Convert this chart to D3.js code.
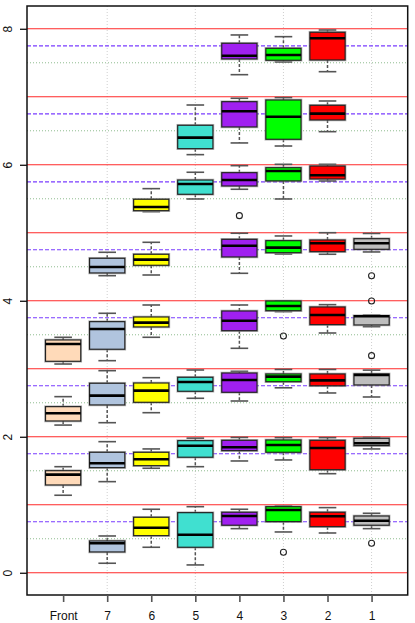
<!DOCTYPE html>
<html>
<head>
<meta charset="utf-8">
<script src="https://cdn.jsdelivr.net/npm/d3@7"></script>
<style>
  html, body { margin: 0; padding: 0; background: #fff; }
  svg { display: block; }
  text { font-family: "Liberation Sans", Arial, sans-serif; }
</style>
</head>
<body>
<svg id="chart" width="415" height="623"></svg>
<script>
// ---- Data ----
const categories = ["Front", "7", "6", "5", "4", "3", "2", "1"];
const fillColors = ["#FFDAB9", "#B0C4DE", "#FFFF00", "#40E0D0", "#A020F0", "#00FF00", "#FF0000", "#BEBEBE"];

// each row: [lower whisker, Q1, median, Q3, upper whisker]
const statsFront = [
  [3.07, 3.11, 3.365, 3.424, 3.463],
  [2.172, 2.232, 2.346, 2.443, 2.59],
  [1.14, 1.291, 1.443, 1.501, 1.56]
];
const stats7 = [
  [4.369, 4.409, 4.497, 4.625, 4.713],
  [3.119, 3.287, 3.585, 3.693, 3.816],
  [2.207, 2.468, 2.605, 2.787, 2.972],
  [1.34, 1.546, 1.61, 1.772, 1.928],
  [0.14, 0.306, 0.434, 0.468, 0.541]
];
const stats6 = [
  [5.31, 5.325, 5.379, 5.493, 5.649],
  [4.379, 4.522, 4.605, 4.684, 4.86],
  [3.463, 3.615, 3.678, 3.762, 3.938],
  [2.354, 2.507, 2.678, 2.791, 2.869],
  [1.537, 1.575, 1.669, 1.772, 1.821],
  [0.375, 0.546, 0.663, 0.816, 0.934]
];
const stats5 = [
  [6.149, 6.237, 6.399, 6.581, 6.879],
  [5.497, 5.566, 5.718, 5.776, 5.89],
  [2.566, 2.669, 2.806, 2.875, 2.982],
  [1.56, 1.699, 1.869, 1.943, 1.98],
  [0.115, 0.375, 0.56, 0.884, 0.972]
];
const stats4 = [
  [7.325, 7.556, 7.604, 7.787, 7.909],
  [6.321, 6.556, 6.787, 6.928, 6.978],
  [5.64, 5.688, 5.776, 5.884, 5.987],
  [4.404, 4.644, 4.81, 4.904, 4.993],
  [3.301, 3.56, 3.707, 3.85, 3.938],
  [2.526, 2.654, 2.835, 2.938, 2.963],
  [1.644, 1.796, 1.845, 1.948, 1.99],
  [0.649, 0.699, 0.835, 0.89, 0.934]
];
const stats3 = [
  [7.512, 7.537, 7.615, 7.713, 7.884],
  [6.276, 6.375, 6.707, 6.953, 6.988],
  [5.497, 5.762, 5.909, 5.957, 6.007],
  [4.688, 4.707, 4.781, 4.884, 4.953],
  [3.84, 3.854, 3.924, 3.997, 4.0],
  [2.72, 2.81, 2.884, 2.924, 2.99],
  [1.659, 1.772, 1.879, 1.953, 1.987],
  [0.6, 0.752, 0.924, 0.972, 0.982]
];
const stats2 = [
  [7.369, 7.541, 7.86, 7.949, 7.982],
  [6.487, 6.659, 6.752, 6.875, 6.938],
  [5.762, 5.791, 5.846, 5.982, 6.007],
  [4.684, 4.722, 4.845, 4.894, 5.001],
  [3.526, 3.649, 3.791, 3.909, 3.943],
  [2.644, 2.75, 2.83, 2.924, 2.99],
  [1.457, 1.516, 1.835, 1.948, 1.987],
  [0.585, 0.678, 0.831, 0.89, 0.958]
];
const stats1 = [
  [4.718, 4.757, 4.845, 4.913, 4.99],
  [3.619, 3.644, 3.772, 3.781, 3.79],
  [2.585, 2.762, 2.909, 2.924, 2.98],
  [1.821, 1.87, 1.904, 1.978, 1.99],
  [0.649, 0.699, 0.766, 0.835, 0.875]
];
const outliers4 = [5.252];
const outliers3 = [3.482, 0.301];
const outliers1 = [4.369, 3.997, 3.193, 0.434];

const allStats = [statsFront, stats7, stats6, stats5, stats4, stats3, stats2, stats1];
const allOutliers = [[], [], [], [], outliers4, outliers3, [], outliers1];

const yTicks = [0, 2, 4, 6, 8];
const redLevels = [0, 1, 2, 3, 4, 5, 6, 7, 8];
const blueLevels = [0.75, 1.75, 2.75, 3.75, 4.75, 5.75, 6.75, 7.75];
const greenLevels = [0.5, 1.5, 2.5, 3.5, 4.5, 5.5, 6.5, 7.5];
const vGridPositions = [2, 4, 6, 8];

// ---- Layout ----
const svg = d3.select("#chart");
const L = 27, R = 407.7, T = 6, B = 595;
const x = d3.scaleLinear().domain([0.18, 8.82]).range([L, R]);
const y = d3.scaleLinear().domain([-0.327, 8.335]).range([B, T]);
const boxW = x(0.8) - x(0);
const capW = boxW * 0.5;

const plot = svg.append("g");

// vertical dotted grid
plot.selectAll("line.vg").data(vGridPositions).enter().append("line")
  .attr("x1", d => x(d)).attr("x2", d => x(d))
  .attr("y1", T).attr("y2", B)
  .attr("stroke", "#cfcfcf").attr("stroke-width", 1)
  .attr("stroke-dasharray", "1,2");

// green dotted
plot.selectAll("line.gl").data(greenLevels).enter().append("line")
  .attr("x1", L).attr("x2", R)
  .attr("y1", d => y(d)).attr("y2", d => y(d))
  .attr("stroke", "#8fbc8f").attr("stroke-width", 1)
  .attr("stroke-dasharray", "1,2");

// blue dashed
plot.selectAll("line.bl").data(blueLevels).enter().append("line")
  .attr("x1", L).attr("x2", R)
  .attr("y1", d => y(d)).attr("y2", d => y(d))
  .attr("stroke", "#7a3cff").attr("stroke-width", 1.2)
  .attr("stroke-dasharray", "4,2");

// red solid
plot.selectAll("line.rl").data(redLevels).enter().append("line")
  .attr("x1", L).attr("x2", R)
  .attr("y1", d => y(d)).attr("y2", d => y(d))
  .attr("stroke", "#ff2a2a").attr("stroke-width", 1.1);

// boxes
allStats.forEach((rows, ci) => {
  const cx = x(ci + 1);
  const g = plot.append("g");
  rows.forEach(s => {
    const [lo, q1, med, q3, hi] = s;
    // whiskers
    g.append("line").attr("x1", cx).attr("x2", cx).attr("y1", y(q3)).attr("y2", y(hi))
      .attr("stroke", "#555").attr("stroke-width", 1.5).attr("stroke-dasharray", "3,2");
    g.append("line").attr("x1", cx).attr("x2", cx).attr("y1", y(q1)).attr("y2", y(lo))
      .attr("stroke", "#555").attr("stroke-width", 1.5).attr("stroke-dasharray", "3,2");
    // caps
    [lo, hi].forEach(v => {
      g.append("line").attr("x1", cx - capW / 2).attr("x2", cx + capW / 2)
        .attr("y1", y(v)).attr("y2", y(v))
        .attr("stroke", "#555").attr("stroke-width", 1.6);
    });
    // shadow halo
    g.append("rect")
      .attr("x", cx - boxW / 2 - 0.8).attr("y", y(q3) - 0.8)
      .attr("width", boxW + 1.6).attr("height", y(q1) - y(q3) + 1.6)
      .attr("fill", "none").attr("stroke", "#9a9a9a").attr("stroke-width", 1).attr("opacity", 0.7);
    // box
    g.append("rect")
      .attr("x", cx - boxW / 2).attr("y", y(q3))
      .attr("width", boxW).attr("height", y(q1) - y(q3))
      .attr("fill", fillColors[ci]).attr("stroke", "#222").attr("stroke-width", 1.2);
    // median
    g.append("line").attr("x1", cx - boxW / 2).attr("x2", cx + boxW / 2)
      .attr("y1", y(med)).attr("y2", y(med))
      .attr("stroke", "#000").attr("stroke-width", 2.6);
  });
  allOutliers[ci].forEach(v => {
    g.append("circle").attr("cx", cx).attr("cy", y(v)).attr("r", 3)
      .attr("fill", "none").attr("stroke", "#222").attr("stroke-width", 1.1);
  });
});

// frame
svg.append("rect").attr("x", L).attr("y", T).attr("width", R - L).attr("height", B - T)
  .attr("fill", "none").attr("stroke", "#111").attr("stroke-width", 1.5);

// y axis
const yAxis = d3.axisLeft(y).tickValues(yTicks).tickSize(7).tickFormat(d3.format("d"));
const yg = svg.append("g").attr("transform", `translate(${L},0)`).call(yAxis);
yg.select(".domain").remove();
yg.selectAll(".tick line").attr("stroke", "#111").attr("stroke-width", 1.3);
yg.selectAll(".tick text")
  .attr("x", null).attr("dy", null)
  .attr("transform", `translate(-15,0) rotate(-90)`)
  .attr("text-anchor", "middle")
  .attr("font-size", 12).attr("fill", "#111")
  .attr("font-family", "Liberation Sans, Arial, sans-serif");

// x axis
const xAxis = d3.axisBottom(x).tickValues(d3.range(1, categories.length + 1))
  .tickSize(7).tickFormat(d => categories[d - 1]);
const xg = svg.append("g").attr("transform", `translate(0,${B})`).call(xAxis);
xg.select(".domain").remove();
xg.selectAll(".tick line").attr("stroke", "#555").attr("stroke-width", 1.6);
xg.selectAll(".tick text").attr("y", 25).attr("dy", null)
  .attr("font-size", 12).attr("fill", "#111")
  .attr("font-family", "Liberation Sans, Arial, sans-serif");
</script>
</body>
</html>
